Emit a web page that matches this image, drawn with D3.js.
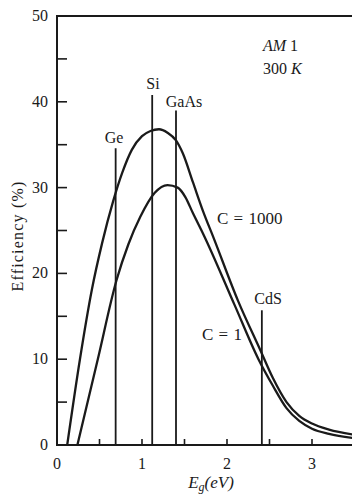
<!DOCTYPE html>
<html>
<head>
<meta charset="utf-8">
<script src="https://cdn.jsdelivr.net/npm/d3@7"></script>
<style>
  body { margin: 0; background: #fff; }
  text { font-family: "Liberation Serif", "DejaVu Serif", serif; fill: #1a1a1a; }
</style>
</head>
<body>
<div id="chart"></div>
<script>
// efficiency (%) vs band gap (eV)
const c1000 = [[0.12,0],[0.27,10],[0.41,18.1],[0.53,23.5],[0.66,28.4],[0.77,31.8],[0.88,34.4],[1.0,36],[1.1,36.6],[1.2,36.8],[1.3,36.4],[1.4,35.5],[1.48,34.0],[1.6,30.6],[1.72,27.2],[1.84,24.2],[2.13,16.8],[2.39,11.1],[2.54,7.8],[2.7,5.0],[2.85,3.4],[3.0,2.5],[3.2,1.8],[3.5,1.2]];
const c1 = [[0.24,0],[0.48,10],[0.7,19.2],[0.84,23.4],[0.98,26.6],[1.15,29.4],[1.3,30.3],[1.42,30.0],[1.51,28.9],[1.6,27.0],[1.72,24.6],[2.09,16.3],[2.37,10.0],[2.54,6.9],[2.7,4.3],[2.85,2.8],[3.0,1.9],[3.2,1.3],[3.5,0.8]];
const materials = ['Ge', 'Si', 'GaAs', 'CdS'];
const gaps = [0.69, 1.12, 1.40, 2.41];
const lineTops = [34.6, 40.8, 39.0, 15.7];
const yTicks = [0, 10, 20, 30, 40, 50];
const xTicks = [0, 1, 2, 3];

const width = 352, height = 497;
const x = d3.scaleLinear().domain([0, 3.5]).range([57, 354.5]);
const y = d3.scaleLinear().domain([0, 50]).range([445, 16]);

const svg = d3.select('#chart').append('svg')
  .attr('width', width).attr('height', height);

const ink = '#1a1a1a';

// frame: top line, left axis, bottom axis
svg.append('path')
  .attr('d', `M${x(3.5)},${y(50)}H${x(0)}V${y(0)}H${x(3.5)}`)
  .attr('fill', 'none').attr('stroke', ink).attr('stroke-width', 2);

// y ticks point inward, every 5 %
d3.range(0, 51, 5).forEach(v => {
  svg.append('line')
    .attr('x1', x(0)).attr('x2', x(0) + 10)
    .attr('y1', y(v)).attr('y2', y(v))
    .attr('stroke', ink).attr('stroke-width', 1.6);
});
svg.selectAll('.ylab').data(yTicks).enter().append('text')
  .attr('x', 48).attr('y', d => y(d) + 5)
  .attr('text-anchor', 'end').style('font-size', '16px')
  .text(d => d);

// x ticks point up, every 0.5 eV
d3.range(0.5, 3.5, 0.5).forEach(v => {
  svg.append('line')
    .attr('x1', x(v)).attr('x2', x(v))
    .attr('y1', y(0)).attr('y2', y(0) - 6)
    .attr('stroke', ink).attr('stroke-width', 1.6);
});
svg.selectAll('.xlab').data(xTicks).enter().append('text')
  .attr('x', d => x(d)).attr('y', 469)
  .attr('text-anchor', 'middle').style('font-size', '16px')
  .text(d => d);

// axis titles
svg.append('text')
  .attr('transform', 'translate(23,236) rotate(-90)')
  .attr('text-anchor', 'middle').style('font-size', '16px')
  .style('letter-spacing', '1.2px')
  .text('Efficiency (%)');

const xt = svg.append('text')
  .attr('x', 211).attr('y', 488)
  .attr('text-anchor', 'middle').style('font-size', '17px').style('font-style', 'italic');
xt.append('tspan').text('E');
xt.append('tspan').attr('dy', 3).style('font-size', '12px').text('g');
xt.append('tspan').attr('dy', -3).text('(eV)');

// band gap markers
materials.forEach((m, i) => {
  svg.append('line')
    .attr('x1', x(gaps[i])).attr('x2', x(gaps[i]))
    .attr('y1', y(lineTops[i])).attr('y2', y(0))
    .attr('stroke', ink).attr('stroke-width', 1.8);
});
const labelPos = [[114, 143], [153, 89], [184, 107], [268, 304]];
materials.forEach((m, i) => {
  svg.append('text')
    .attr('x', labelPos[i][0]).attr('y', labelPos[i][1])
    .attr('text-anchor', 'middle').style('font-size', '16px')
    .text(m);
});

// efficiency curves
const line = d3.line()
  .x(d => x(d[0])).y(d => y(d[1]))
  .curve(d3.curveMonotoneX);
[c1000, c1].forEach(s => {
  svg.append('path').datum(s)
    .attr('d', line)
    .attr('fill', 'none').attr('stroke', ink).attr('stroke-width', 2.3);
});

svg.append('text').attr('x', 217).attr('y', 224).style('font-size', '17px')
  .style('word-spacing', '1px').text('C = 1000');
svg.append('text').attr('x', 202).attr('y', 340).style('font-size', '17px')
  .style('word-spacing', '1px').text('C = 1');

const am = svg.append('text').attr('x', 263).attr('y', 51).style('font-size', '16px');
am.append('tspan').style('font-style', 'italic').text('AM');
am.append('tspan').text(' 1');
const tk = svg.append('text').attr('x', 263).attr('y', 74).style('font-size', '16px');
tk.append('tspan').text('300 ');
tk.append('tspan').style('font-style', 'italic').text('K');
</script>
</body>
</html>
